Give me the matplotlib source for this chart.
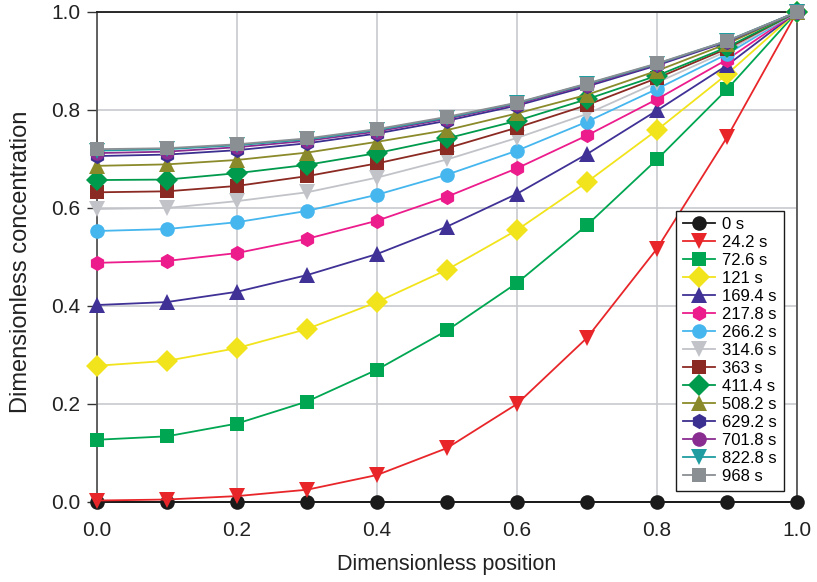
import matplotlib
matplotlib.use("Agg")
import matplotlib.pyplot as plt
import numpy as np

plt.rcParams['font.family'] = ['Liberation Sans', 'DejaVu Sans']

position = [0.0, 0.1, 0.2, 0.3, 0.4, 0.5, 0.6, 0.7, 0.8, 0.9, 1.0]

labels = ["0 s", "24.2 s", "72.6 s", "121 s", "169.4 s", "217.8 s", "266.2 s",
          "314.6 s", "363 s", "411.4 s", "508.2 s", "629.2 s", "701.8 s",
          "822.8 s", "968 s"]

c_0 = [0.0, 0.0, 0.0, 0.0, 0.0, 0.0, 0.0, 0.0, 0.0, 0.0, 0.0]
c_24 = [0.003, 0.005, 0.012, 0.025, 0.055, 0.110, 0.200, 0.335, 0.517, 0.744, 1.0]
c_73 = [0.127, 0.134, 0.160, 0.205, 0.270, 0.350, 0.447, 0.565, 0.699, 0.842, 1.0]
c_121 = [0.278, 0.288, 0.314, 0.353, 0.408, 0.474, 0.555, 0.653, 0.759, 0.873, 1.0]
c_169 = [0.402, 0.408, 0.429, 0.463, 0.506, 0.562, 0.629, 0.710, 0.799, 0.891, 1.0]
c_218 = [0.488, 0.492, 0.508, 0.537, 0.574, 0.623, 0.681, 0.748, 0.822, 0.903, 1.0]
c_266 = [0.553, 0.557, 0.571, 0.594, 0.627, 0.668, 0.717, 0.776, 0.843, 0.914, 1.0]
c_315 = [0.598, 0.600, 0.614, 0.632, 0.662, 0.699, 0.743, 0.792, 0.856, 0.920, 1.0]
c_363 = [0.632, 0.634, 0.645, 0.665, 0.691, 0.722, 0.764, 0.810, 0.865, 0.925, 1.0]
c_411 = [0.657, 0.658, 0.671, 0.688, 0.712, 0.742, 0.778, 0.822, 0.870, 0.928, 1.0]
c_508 = [0.686, 0.689, 0.698, 0.713, 0.735, 0.759, 0.793, 0.831, 0.880, 0.935, 1.0]
c_629 = [0.706, 0.709, 0.718, 0.732, 0.752, 0.778, 0.809, 0.848, 0.891, 0.939, 1.0]
c_702 = [0.712, 0.715, 0.724, 0.737, 0.756, 0.782, 0.812, 0.851, 0.893, 0.940, 1.0]
c_823 = [0.717, 0.720, 0.728, 0.740, 0.759, 0.784, 0.814, 0.853, 0.894, 0.941, 1.0]
c_968 = [0.720, 0.722, 0.730, 0.742, 0.761, 0.786, 0.815, 0.854, 0.895, 0.941, 1.0]

series = [c_0, c_24, c_73, c_121, c_169, c_218, c_266, c_315, c_363, c_411,
          c_508, c_629, c_702, c_823, c_968]

colors = ["#1a1a1a", "#e8262a", "#00a651", "#f2e41c", "#3f3195", "#ec1c8c",
          "#45b6ee", "#c1c3c8", "#8b2a22", "#009a4d", "#8a8a2a", "#3b2f8f",
          "#8a2d91", "#1f9da0", "#8a8f94"]
markers = ["o", "v", "s", "D", "^", "h", "o", "v", "s", "D", "^", "h", "o", "v", "s"]
sizes = [10.5, 11, 10, 11, 11, 11, 10.5, 11, 10, 11, 11, 11, 10.5, 11, 10]

fig = plt.figure(figsize=(8.17, 5.82), dpi=100)
ax = fig.add_axes([0.1187, 0.1375, 0.8568, 0.8419])

for vals, lab, col, mk, ms in zip(series, labels, colors, markers, sizes):
    ax.plot(position, vals, color=col, marker=mk, markersize=ms, linewidth=1.3,
            markeredgewidth=0, label=lab, clip_on=False, zorder=3)

ax.set_xlim(0, 1)
ax.set_ylim(0, 1)
ax.set_xticks(np.arange(0, 1.01, 0.2))
ax.set_yticks(np.arange(0, 1.01, 0.2))
ax.xaxis.set_major_formatter(matplotlib.ticker.FormatStrFormatter('%.1f'))
ax.yaxis.set_major_formatter(matplotlib.ticker.FormatStrFormatter('%.1f'))
ax.grid(True, color="#c8c9cd", linewidth=1.2, zorder=0)
ax.set_axisbelow(True)

ax.tick_params(axis='x', length=0, pad=13.5, labelsize=15, labelcolor="#222222")
ax.tick_params(axis='y', length=7, width=1, direction='out', pad=5, labelsize=15,
               color="#333333", labelcolor="#222222")

for side in ['left', 'right']:
    ax.spines[side].set_color("#555555")
    ax.spines[side].set_linewidth(1.3)
for side in ['top', 'bottom']:
    ax.spines[side].set_color("#1a1a1a")
    ax.spines[side].set_linewidth(1.3)

ax.set_xlabel("Dimensionless position", fontsize=15.5, color="#222222", va='top')
ax.xaxis.set_label_coords(0.5, -0.106)
ax.set_ylabel("Dimensionless concentration", fontsize=17, color="#222222")
ax.yaxis.set_label_coords(-0.093, 0.49)

leg = ax.legend(loc='lower right', bbox_to_anchor=(0.981, 0.0224), fontsize=12,
                frameon=True, fancybox=False, edgecolor="#1a1a1a",
                framealpha=1, borderpad=0.4, labelspacing=0.18, borderaxespad=0,
                handlelength=1.9, handletextpad=0.45, markerscale=1.0)
leg.get_frame().set_linewidth(1.0)
leg.set_zorder(5)

fig.savefig("out.png", dpi=100)
